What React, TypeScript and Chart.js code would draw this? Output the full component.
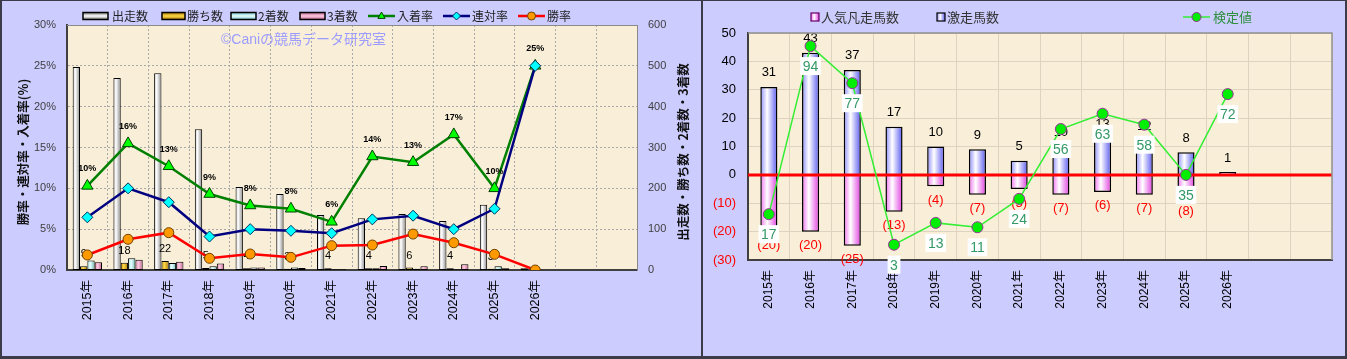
import React, { useEffect, useRef } from 'react';
import { Chart, registerables } from 'chart.js';

Chart.register(...registerables);

const FONT = "'Liberation Sans', 'Noto Sans CJK JP', sans-serif";
const CJK = "'Noto Sans CJK JP', 'Liberation Sans', sans-serif";
Chart.defaults.font.family = FONT;

// ---------- data: left panel ----------
const yearLabels = ['2015年', '2016年', '2017年', '2018年', '2019年', '2020年', '2021年', '2022年', '2023年', '2024年', '2025年', '2026年', '', ''];
const runners = [497, 470, 482, 345, 203, 186, 135, 127, 137, 120, 160, 4];
const wins = [9, 18, 22, 5, 4, 3, 4, 4, 6, 4, 3, 0];
const seconds = [23, 29, 17, 9, 6, 6, 2, 4, 3, 2, 9, 1];
const thirds = [19, 25, 20, 16, 6, 5, 2, 10, 9, 14, 4, 0];
const placeRate = [10.3, 15.5, 12.7, 9.3, 7.9, 7.5, 5.9, 13.9, 13.2, 16.6, 10.0, 25.0];
const quinellaRate = [6.45, 10.0, 8.3, 4.1, 5.0, 4.8, 4.5, 6.2, 6.65, 5.0, 7.5, 25.0];
const winRate = [1.84, 3.76, 4.57, 1.43, 1.96, 1.55, 2.98, 3.06, 4.4, 3.34, 1.92, 0];

// ---------- data: right panel ----------
const hitHorses = [31, 43, 37, 17, 10, 9, 5, 10, 13, 12, 8, 1];
const flopHorses = [-20, -20, -25, -13, -4, -7, -5, -7, -6, -7, -8, 0];
const testValues = [17, 94, 77, 3, 13, 11, 24, 56, 63, 58, 35, 72];

const PLOT_BG = '#f9efd8';

type Stop = [number, string];
const runnerStops: Stop[] = [[0, '#c4c4c4'], [0.35, '#ffffff'], [1, '#8a8a8a']];
const winStops: Stop[] = [[0, '#c89400'], [0.4, '#ffd84a'], [1, '#a87800']];
const secondStops: Stop[] = [[0, '#90d8d8'], [0.4, '#eaffff'], [1, '#70c0c0']];
const thirdStops: Stop[] = [[0, '#d878a8'], [0.4, '#ffcce2'], [1, '#c06090']];
const hitStops: Stop[] = [[0, '#8c8cff'], [0.4, '#ffffff'], [1, '#5a5af0']];
const flopStops: Stop[] = [[0, '#f070f0'], [0.4, '#ffffff'], [1, '#e040e0']];

function hGrad(ctx: CanvasRenderingContext2D, x0: number, x1: number, stops: Stop[]) {
  const g = ctx.createLinearGradient(x0, 0, x1, 0);
  stops.forEach(([o, c]) => g.addColorStop(o, c));
  return g;
}
function vGrad(ctx: CanvasRenderingContext2D, y0: number, y1: number, stops: Stop[]) {
  const g = ctx.createLinearGradient(0, y0, 0, y1);
  stops.forEach(([o, c]) => g.addColorStop(o, c));
  return g;
}

const L_CAT = 0.72;
const L_BAR = 1;
function groupedBg(k: number, stops: Stop[], fallback: string) {
  return (c: any) => {
    const chart = c.chart;
    const xs = chart.scales && chart.scales.x;
    if (!xs || c.dataIndex === undefined) return fallback;
    const slot = xs.getPixelForValue(1) - xs.getPixelForValue(0);
    const center = xs.getPixelForValue(c.dataIndex);
    const gw = slot * L_CAT;
    const bw = (gw / 4) * L_BAR;
    const x0 = center - gw / 2 + k * (gw / 4) + (gw / 4 - bw) / 2;
    if (!isFinite(x0) || !isFinite(bw) || bw <= 0) return fallback;
    return hGrad(chart.ctx, x0, x0 + bw, stops);
  };
}
const R_CAT = 0.82;
const R_BAR = 0.5;
function singleBg(stops: Stop[], fallback: string) {
  return (c: any) => {
    const chart = c.chart;
    const xs = chart.scales && chart.scales.x;
    if (!xs || c.dataIndex === undefined) return fallback;
    const slot = xs.getPixelForValue(1) - xs.getPixelForValue(0);
    const center = xs.getPixelForValue(c.dataIndex);
    const bw = slot * R_CAT * R_BAR;
    const x0 = center - bw / 2;
    if (!isFinite(x0) || !isFinite(bw) || bw <= 0) return fallback;
    return hGrad(chart.ctx, x0, x0 + bw, stops);
  };
}

function drawMarker(ctx: CanvasRenderingContext2D, kind: string, x: number, y: number, r: number, fill: string, stroke: string) {
  ctx.beginPath();
  if (kind === 'triangle') {
    ctx.moveTo(x, y - r);
    ctx.lineTo(x + r * 0.9, y + r * 0.6);
    ctx.lineTo(x - r * 0.9, y + r * 0.6);
    ctx.closePath();
  } else if (kind === 'diamond') {
    ctx.moveTo(x, y - r);
    ctx.lineTo(x + r, y);
    ctx.lineTo(x, y + r);
    ctx.lineTo(x - r, y);
    ctx.closePath();
  } else {
    ctx.arc(x, y, r, 0, Math.PI * 2);
  }
  ctx.fillStyle = fill;
  ctx.fill();
  ctx.strokeStyle = stroke;
  ctx.lineWidth = 1;
  ctx.stroke();
}

function vText(ctx: CanvasRenderingContext2D, text: string, x: number, y: number, font: string, color: string) {
  ctx.save();
  ctx.translate(x, y);
  ctx.rotate(-Math.PI / 2);
  ctx.font = font;
  ctx.fillStyle = color;
  ctx.textAlign = 'center';
  ctx.textBaseline = 'middle';
  ctx.fillText(text, 0, 0);
  ctx.restore();
}

function fillPlot(chart: any) {
  const { ctx, chartArea: a } = chart;
  ctx.save();
  ctx.fillStyle = PLOT_BG;
  ctx.fillRect(a.left, a.top, a.right - a.left, a.bottom - a.top);
  ctx.restore();
}

// ---------- left panel plugin ----------
const leftLegendBoxes = [
  { x: 83, w: 25, text: '出走数', stops: runnerStops, tx: 112 },
  { x: 162, w: 23, text: '勝ち数', stops: winStops, tx: 187 },
  { x: 231, w: 25, text: '2着数', stops: secondStops, tx: 258 },
  { x: 300, w: 25, text: '3着数', stops: thirdStops, tx: 327 },
];
const leftLegendLines = [
  { x: 368, text: '入着率', color: '#008000', kind: 'triangle', fill: '#00ff00', stroke: '#004000', tx: 397 },
  { x: 443, text: '連対率', color: '#000080', kind: 'diamond', fill: '#00ffff', stroke: '#003060', tx: 472 },
  { x: 518, text: '勝率', color: '#ff0000', kind: 'circle', fill: '#ff9900', stroke: '#704000', tx: 547 },
];

const leftPlugin = {
  id: 'leftDecor',
  beforeDraw(chart: any) {
    fillPlot(chart);
  },
  beforeDatasetsDraw(chart: any) {
    const ctx = chart.ctx;
    ctx.save();
    ctx.font = `14px ${FONT}`;
    ctx.fillStyle = '#9c9cff';
    ctx.textAlign = 'left';
    ctx.textBaseline = 'middle';
    ctx.fillText('©Caniの競馬データ研究室', 221, 40);
    ctx.restore();
  },
  beforeDatasetDraw(chart: any, args: any) {
    if (args.index !== 2) return;
    const ctx = chart.ctx;
    const meta = chart.getDatasetMeta(4);
    ctx.save();
    ctx.font = `11px ${FONT}`;
    ctx.fillStyle = '#000';
    ctx.textAlign = 'center';
    ctx.textBaseline = 'middle';
    meta.data.forEach((el: any, i: number) => {
      if (!wins[i]) return;
      ctx.fillText(String(wins[i]), el.x, el.y - 12);
    });
    ctx.restore();
  },
  afterDatasetsDraw(chart: any) {
    const ctx = chart.ctx;
    const meta = chart.getDatasetMeta(2);
    ctx.save();
    ctx.font = `bold 9px ${FONT}`;
    ctx.fillStyle = '#000';
    ctx.textAlign = 'center';
    ctx.textBaseline = 'middle';
    meta.data.forEach((el: any, i: number) => {
      ctx.fillText(Math.round(placeRate[i]) + '%', el.x, el.y - 17);
    });
    ctx.restore();
  },
  afterDraw(chart: any) {
    const ctx = chart.ctx;
    const a = chart.chartArea;
    ctx.save();
    // top border
    ctx.strokeStyle = '#8a8a8a';
    ctx.lineWidth = 1;
    ctx.beginPath();
    ctx.moveTo(a.left, a.top + 0.5);
    ctx.lineTo(a.right, a.top + 0.5);
    ctx.stroke();
    // legend
    ctx.font = `12px ${CJK}`;
    ctx.textBaseline = 'middle';
    ctx.textAlign = 'left';
    const ly = 16;
    leftLegendBoxes.forEach((b) => {
      ctx.fillStyle = vGrad(ctx, ly - 3.5, ly + 3.5, [[0, '#777'], [0.5, '#fff'], [1, '#777']]);
      if (b.stops !== runnerStops) ctx.fillStyle = vGrad(ctx, ly - 3.5, ly + 3.5, [[0, b.stops[2][1]], [0.5, b.stops[1][1]], [1, b.stops[2][1]]]);
      ctx.fillRect(b.x, ly - 3.5, b.w, 7);
      ctx.strokeStyle = '#000';
      ctx.lineWidth = 1.5;
      ctx.strokeRect(b.x, ly - 3.5, b.w, 7);
      ctx.fillStyle = '#222';
      ctx.fillText(b.text, b.tx, ly);
    });
    leftLegendLines.forEach((l) => {
      ctx.strokeStyle = l.color;
      ctx.lineWidth = 2.5;
      ctx.beginPath();
      ctx.moveTo(l.x, ly);
      ctx.lineTo(l.x + 27, ly);
      ctx.stroke();
      drawMarker(ctx, l.kind, l.x + 13.5, ly, 4, l.fill, l.stroke);
      ctx.fillStyle = '#222';
      ctx.fillText(l.text, l.tx, ly);
    });
    ctx.restore();
    vText(ctx, '勝率・連対率・入着率(%)', 23, 152, `bold 12.5px ${CJK}`, '#111');
    vText(ctx, '出走数・勝ち数・2着数・3着数', 683, 152, `bold 12.5px ${CJK}`, '#111');
  },
};

// ---------- right panel plugin ----------
const rightPlugin = {
  id: 'rightDecor',
  beforeDraw(chart: any) {
    fillPlot(chart);
  },
  beforeDatasetDraw(chart: any, args: any) {
    if (args.index !== 0) return;
    const ctx = chart.ctx;
    const a = chart.chartArea;
    const y0 = chart.scales.y.getPixelForValue(0);
    ctx.save();
    ctx.strokeStyle = '#ff0000';
    ctx.lineWidth = 3;
    ctx.beginPath();
    ctx.moveTo(a.left, y0);
    ctx.lineTo(a.right, y0);
    ctx.stroke();
    ctx.font = `13px ${FONT}`;
    ctx.textAlign = 'center';
    ctx.textBaseline = 'middle';
    const hitMeta = chart.getDatasetMeta(1);
    ctx.fillStyle = '#000';
    hitMeta.data.forEach((el: any, i: number) => {
      if (!hitHorses[i]) return;
      ctx.fillText(String(hitHorses[i]), el.x, el.y - 14);
    });
    const flopMeta = chart.getDatasetMeta(2);
    ctx.fillStyle = '#ff0000';
    flopMeta.data.forEach((el: any, i: number) => {
      if (!flopHorses[i]) return;
      ctx.fillText(`(${-flopHorses[i]})`, el.x, el.y + 14);
    });
    ctx.restore();
  },
  afterDatasetsDraw(chart: any) {
    const ctx = chart.ctx;
    const meta = chart.getDatasetMeta(0);
    ctx.save();
    ctx.font = `14px ${FONT}`;
    ctx.textAlign = 'center';
    ctx.textBaseline = 'middle';
    meta.data.forEach((el: any, i: number) => {
      const t = String(testValues[i]);
      const w = ctx.measureText(t).width + 5;
      const cy = el.y + 20;
      ctx.fillStyle = '#ffffff';
      ctx.fillRect(el.x - w / 2, cy - 9, w, 18);
      ctx.fillStyle = '#339966';
      ctx.fillText(t, el.x, cy + 1);
    });
    ctx.restore();
  },
  afterDraw(chart: any) {
    const ctx = chart.ctx;
    const a = chart.chartArea;
    ctx.save();
    ctx.strokeStyle = '#909090';
    ctx.lineWidth = 1.5;
    ctx.beginPath();
    ctx.moveTo(a.left, a.top);
    ctx.lineTo(a.right, a.top);
    ctx.lineTo(a.right, a.bottom);
    ctx.stroke();
    // legend
    const ly = 17;
    ctx.font = `13px ${CJK}`;
    ctx.textAlign = 'left';
    ctx.textBaseline = 'middle';
    // 人気凡走馬数
    ctx.fillStyle = hGrad(ctx, 108, 116, flopStops);
    ctx.fillRect(108, ly - 4, 8, 8);
    ctx.strokeStyle = '#660066';
    ctx.lineWidth = 1.2;
    ctx.strokeRect(108, ly - 4, 8, 8);
    ctx.fillStyle = '#333';
    ctx.fillText('人気凡走馬数', 118, ly);
    // 激走馬数
    ctx.fillStyle = hGrad(ctx, 234, 242, hitStops);
    ctx.fillRect(234, ly - 4, 8, 8);
    ctx.strokeStyle = '#000';
    ctx.strokeRect(234, ly - 4, 8, 8);
    ctx.fillStyle = '#333';
    ctx.fillText('激走馬数', 244, ly);
    // 検定値
    ctx.strokeStyle = '#33ee33';
    ctx.lineWidth = 1.5;
    ctx.beginPath();
    ctx.moveTo(480, ly);
    ctx.lineTo(507, ly);
    ctx.stroke();
    drawMarker(ctx, 'circle', 493.5, ly, 4.5, '#00ee00', '#993399');
    ctx.fillStyle = '#2f8f3f';
    ctx.fillText('検定値', 510, ly);
    ctx.restore();
  },
};

function leftConfig(): any {
  const barCommon = { type: 'bar', yAxisID: 'y1', order: 3, borderColor: '#000', borderWidth: 1 };
  return {
    type: 'bar',
    data: {
      labels: yearLabels,
      datasets: [
        { type: 'line', label: '勝率', data: winRate, yAxisID: 'y', order: 0, borderColor: '#ff0000', borderWidth: 2.5, pointStyle: 'circle', pointRadius: 5, pointBackgroundColor: '#ff9900', pointBorderColor: '#704000', pointBorderWidth: 1, tension: 0, fill: false },
        { type: 'line', label: '連対率', data: quinellaRate, yAxisID: 'y', order: 1, borderColor: '#000080', borderWidth: 2.5, pointStyle: 'rectRot', pointRadius: 5.5, pointBackgroundColor: '#00ffff', pointBorderColor: '#003060', pointBorderWidth: 1, tension: 0, fill: false },
        { type: 'line', label: '入着率', data: placeRate, yAxisID: 'y', order: 2, borderColor: '#008000', borderWidth: 2.5, pointStyle: 'triangle', pointRadius: 6.5, pointBackgroundColor: '#00ff00', pointBorderColor: '#004000', pointBorderWidth: 1, tension: 0, fill: false },
        { ...barCommon, label: '出走数', data: runners, backgroundColor: groupedBg(0, runnerStops, '#e0e0e0') },
        { ...barCommon, label: '勝ち数', data: wins, backgroundColor: groupedBg(1, winStops, '#ffcc00') },
        { ...barCommon, label: '2着数', data: seconds, backgroundColor: groupedBg(2, secondStops, '#ccffff') },
        { ...barCommon, label: '3着数', data: thirds, backgroundColor: groupedBg(3, thirdStops, '#ff99cc') },
      ],
    },
    options: {
      responsive: false,
      maintainAspectRatio: false,
      animation: false,
      events: [],
      layout: { padding: { top: 25, left: 0, right: 0, bottom: 0 } },
      plugins: { legend: { display: false }, tooltip: { enabled: false }, title: { display: false } },
      datasets: { bar: { categoryPercentage: L_CAT, barPercentage: L_BAR, borderSkipped: false } },
      scales: {
        x: {
          offset: true,
          grid: { offset: true, color: '#a8a8a8', drawTicks: false },
          border: { display: true, color: '#404040', width: 2, dash: [2, 2] },
          ticks: { autoSkip: false, maxRotation: 90, minRotation: 90, padding: 10, color: '#000', font: { family: FONT, size: 12.5 } },
          afterFit: (s: any) => { s.height = 89; },
        },
        y: {
          position: 'left',
          min: 0,
          max: 30,
          ticks: { stepSize: 5, callback: (v: any) => v + '%', padding: 11, color: '#404040', font: { family: FONT, size: 11 } },
          grid: { color: '#a8a8a8', drawTicks: false },
          border: { color: '#404040', width: 2, dash: [2, 2] },
          afterFit: (s: any) => { s.width = 67; },
        },
        y1: {
          position: 'right',
          min: 0,
          max: 600,
          ticks: { stepSize: 100, padding: 11, color: '#404040', font: { family: FONT, size: 11 } },
          grid: { display: false, drawTicks: false },
          border: { color: '#8a8a8a', width: 1 },
          afterFit: (s: any) => { s.width = 65; },
        },
      },
    },
    plugins: [leftPlugin],
  };
}

function rightConfig(): any {
  return {
    type: 'bar',
    data: {
      labels: yearLabels,
      datasets: [
        { type: 'line', label: '検定値', data: testValues, yAxisID: 'y2', order: 0, borderColor: '#33ee33', borderWidth: 1.5, pointRadius: 5.5, pointBackgroundColor: '#00ee00', pointBorderColor: '#993399', pointBorderWidth: 1, tension: 0, fill: false },
        { type: 'bar', label: '激走馬数', data: hitHorses, yAxisID: 'y', order: 1, stack: 's', backgroundColor: singleBg(hitStops, '#aaaaff'), borderColor: '#000', borderWidth: 1.5 },
        { type: 'bar', label: '人気凡走馬数', data: flopHorses, yAxisID: 'y', order: 1, stack: 's', backgroundColor: singleBg(flopStops, '#ffaaff'), borderColor: '#000', borderWidth: 1.5 },
      ],
    },
    options: {
      responsive: false,
      maintainAspectRatio: false,
      animation: false,
      events: [],
      layout: { padding: { top: 33, left: 0, right: 15, bottom: 0 } },
      plugins: { legend: { display: false }, tooltip: { enabled: false }, title: { display: false } },
      datasets: { bar: { categoryPercentage: R_CAT, barPercentage: R_BAR } },
      scales: {
        x: {
          stacked: true,
          offset: true,
          grid: { offset: true, color: '#ddd3c0', drawTicks: false },
          border: { color: '#404040', width: 2 },
          ticks: { autoSkip: false, maxRotation: 90, minRotation: 90, padding: 10, color: '#000', font: { family: FONT, size: 12 } },
          afterFit: (s: any) => { s.height = 99; },
        },
        y: {
          stacked: true,
          min: -30,
          max: 50,
          ticks: {
            stepSize: 10,
            callback: (v: any) => (v < 0 ? `(${-v})` : `${v}`),
            color: (c: any) => (c.tick && c.tick.value < 0 ? '#ff0000' : '#000'),
            padding: 12,
            font: { family: FONT, size: 13 },
          },
          grid: { color: '#ddd3c0', drawTicks: false },
          border: { color: '#404040', width: 2 },
          afterFit: (s: any) => { s.width = 45; },
        },
        y2: { display: false, min: -4, max: 100 },
      },
    },
    plugins: [rightPlugin],
  };
}

export default function App() {
  const leftRef = useRef<HTMLCanvasElement>(null);
  const rightRef = useRef<HTMLCanvasElement>(null);
  useEffect(() => {
    const l = new Chart(leftRef.current as HTMLCanvasElement, leftConfig());
    const r = new Chart(rightRef.current as HTMLCanvasElement, rightConfig());
    return () => {
      l.destroy();
      r.destroy();
    };
  }, []);
  return (
    <div style={{ position: 'absolute', left: 0, top: 0, width: 1347, height: 359, background: '#3b3b4a', overflow: 'hidden' }}>
      <div style={{ position: 'absolute', left: 2, top: 1, width: 699, height: 355, background: '#ccccff' }} />
      <div style={{ position: 'absolute', left: 703, top: 1, width: 642, height: 355, background: '#ccccff' }} />
      <canvas ref={leftRef} width={702} height={359} style={{ position: 'absolute', left: 0, top: 0 }} />
      <canvas ref={rightRef} width={644} height={359} style={{ position: 'absolute', left: 703, top: 0 }} />
    </div>
  );
}
